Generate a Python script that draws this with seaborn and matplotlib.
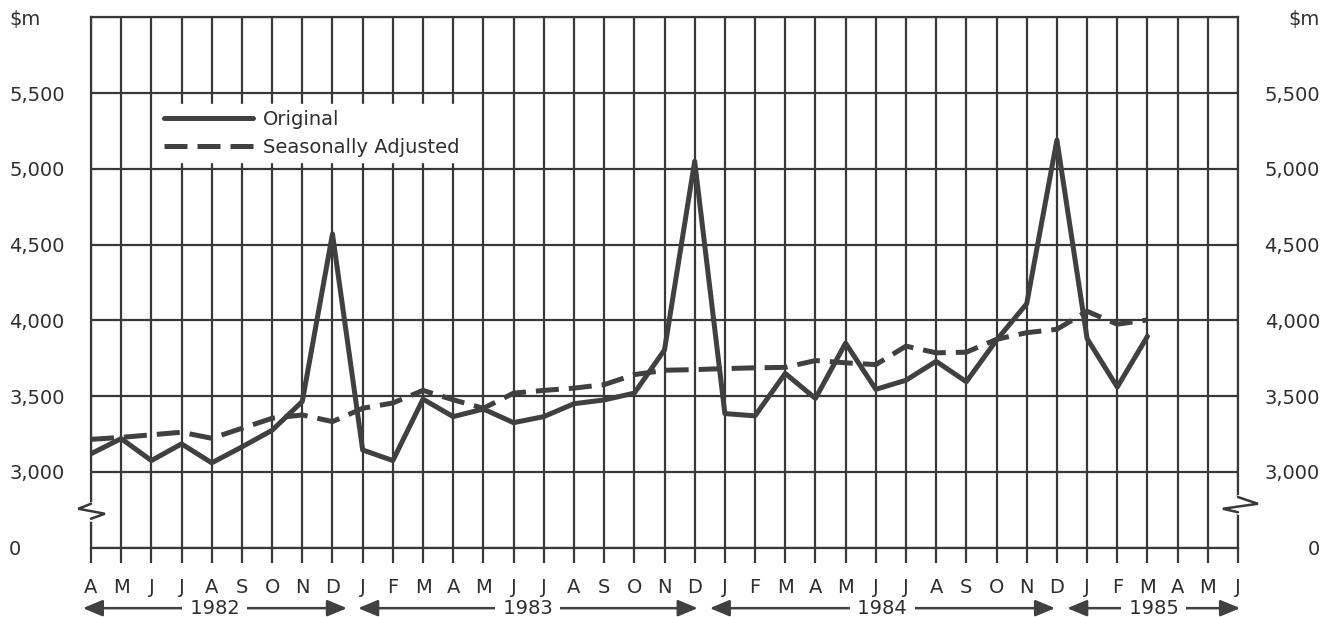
import numpy as np
import pandas as pd
import matplotlib
matplotlib.use("Agg")
import matplotlib.pyplot as plt
import seaborn as sns
from matplotlib.transforms import blended_transform_factory

# ---------------- data ----------------
months = ['A', 'M', 'J', 'J', 'A', 'S', 'O', 'N', 'D',
          'J', 'F', 'M', 'A', 'M', 'J', 'J', 'A', 'S', 'O', 'N', 'D',
          'J', 'F', 'M', 'A', 'M', 'J', 'J', 'A', 'S', 'O', 'N', 'D',
          'J', 'F', 'M', 'A', 'M', 'J']
years = ['1982', '1983', '1984', '1985']
original = [3120, 3220, 3075, 3185, 3060, 3165, 3275, 3465, 4570,
            3145, 3075, 3480, 3365, 3415, 3325, 3365, 3450, 3475, 3520, 3805, 5050,
            3385, 3370, 3650, 3485, 3850, 3545, 3605, 3730, 3595, 3870, 4110, 5190,
            3880, 3560, 3895]
adjusted = [3215, 3228, 3245, 3262, 3222, 3288, 3354, 3376, 3332,
            3420, 3455, 3538, 3476, 3420, 3520, 3538, 3553, 3576, 3642, 3671, 3675,
            3682, 3687, 3690, 3735, 3720, 3708, 3830, 3786, 3790, 3875, 3919, 3941,
            4060, 3975, 4003]
series_names = ['Original', 'Seasonally Adjusted']
ytick_labels = ['0', '3,000', '3,500', '4,000', '4,500', '5,000', '5,500', r'\$m']

# ---------------- layout constants ----------------
BREAK_FLOOR = 2500          # display value where the "0" line sits (broken axis)
Y_TOP = 6000
ytick_pos = [BREAK_FLOOR] + list(range(3000, 6001, 500))
GRID = '#383838'
INK = '#404040'
TXT = '#2e2e2e'

df = pd.concat([
    pd.DataFrame({'month': np.arange(len(original)), 'value': original, 'series': series_names[0]}),
    pd.DataFrame({'month': np.arange(len(adjusted)), 'value': adjusted, 'series': series_names[1]}),
], ignore_index=True)

sns.set_style('white')
plt.rcParams['font.family'] = ['DejaVu Sans']

fig = plt.figure(figsize=(13.25, 6.17), dpi=100)
ax = fig.add_axes([91 / 1325, 1 - 547.7 / 617, (1238 - 91) / 1325, (547.7 - 17.3) / 617])

sns.lineplot(data=df, x='month', y='value', style='series', ax=ax,
             color=INK, linewidth=3.6,
             dashes={series_names[0]: '', series_names[1]: (4.6, 2.0)},
             legend=True)

ax.set_xlim(0, len(months) - 1)
ax.set_ylim(BREAK_FLOOR, Y_TOP)
ax.set_xticks(np.arange(len(months)))
ax.set_xticklabels(months)
ax.set_yticks(ytick_pos)
ax.set_yticklabels(ytick_labels)
ax.set_xlabel('')
ax.set_ylabel('')

ax.set_axisbelow(True)
ax.grid(True, color=GRID, linewidth=1.6)
for s in ax.spines.values():
    s.set_visible(True)
    s.set_color(GRID)
    s.set_linewidth(1.6)

ax.tick_params(axis='x', direction='out', length=10.8, width=1.6, color=GRID,
               pad=11, labelsize=14, labelcolor=TXT, bottom=True)
ax.tick_params(axis='y', length=0, pad=59, labelsize=14, labelcolor=TXT,
               left=False, right=False, labelleft=True, labelright=True)
for t in ax.yaxis.get_major_ticks():
    t.label1.set_horizontalalignment('left')
    t.label2.set_horizontalalignment('right')

# axis break marks
xmax = len(months) - 1
ax.plot([0, 0], [2790, 2691], color='white', lw=3.5, clip_on=False, zorder=3)
ax.plot([0, -0.42, 0.46, 0], [2790, 2757, 2724, 2691], color=GRID, lw=1.8,
        clip_on=False, zorder=4, solid_joinstyle='miter')
ax.plot([xmax, xmax], [2834, 2734], color='white', lw=3.5, clip_on=False, zorder=3)
ax.plot([xmax, xmax + 0.66, xmax - 0.5, xmax], [2834, 2790, 2757, 2734], color=GRID,
        lw=1.8, clip_on=False, zorder=4, solid_joinstyle='miter')

# year arrows
trans = blended_transform_factory(ax.transData, ax.transAxes)
year_tips = [(-0.27, 8.48), (8.85, 20.1), (20.5, 31.94), (32.34, 38.07)]
yy = -0.114
for yr, (a, b) in zip(years, year_tips):
    ax.annotate('', xy=(b, yy), xytext=(a, yy), xycoords=trans, textcoords=trans,
                arrowprops=dict(arrowstyle='<|-|>,head_length=0.6,head_width=0.25',
                                mutation_scale=20, color=INK, lw=1.8,
                                shrinkA=0, shrinkB=0), annotation_clip=False)
    ax.text((a + b) / 2, yy, ' ' + yr + ' ', transform=trans, ha='center', va='center',
            fontsize=14, color=TXT, zorder=5,
            bbox=dict(boxstyle='square,pad=0.08', facecolor='white', edgecolor='none'))

# legend
handles, labels = ax.get_legend_handles_labels()
leg = ax.legend(handles, labels, loc='upper left',
                bbox_to_anchor=(158 / 1325, 1 - 104 / 617), bbox_transform=fig.transFigure,
                frameon=True, fancybox=False, facecolor='white', edgecolor='white',
                framealpha=1, borderpad=0.3, handlelength=4.6, handletextpad=0.5,
                labelspacing=0.45, fontsize=14, borderaxespad=0)
for txt in leg.get_texts():
    txt.set_color(TXT)
leg.set_zorder(6)

fig.savefig('out.png', dpi=100, facecolor='white')
